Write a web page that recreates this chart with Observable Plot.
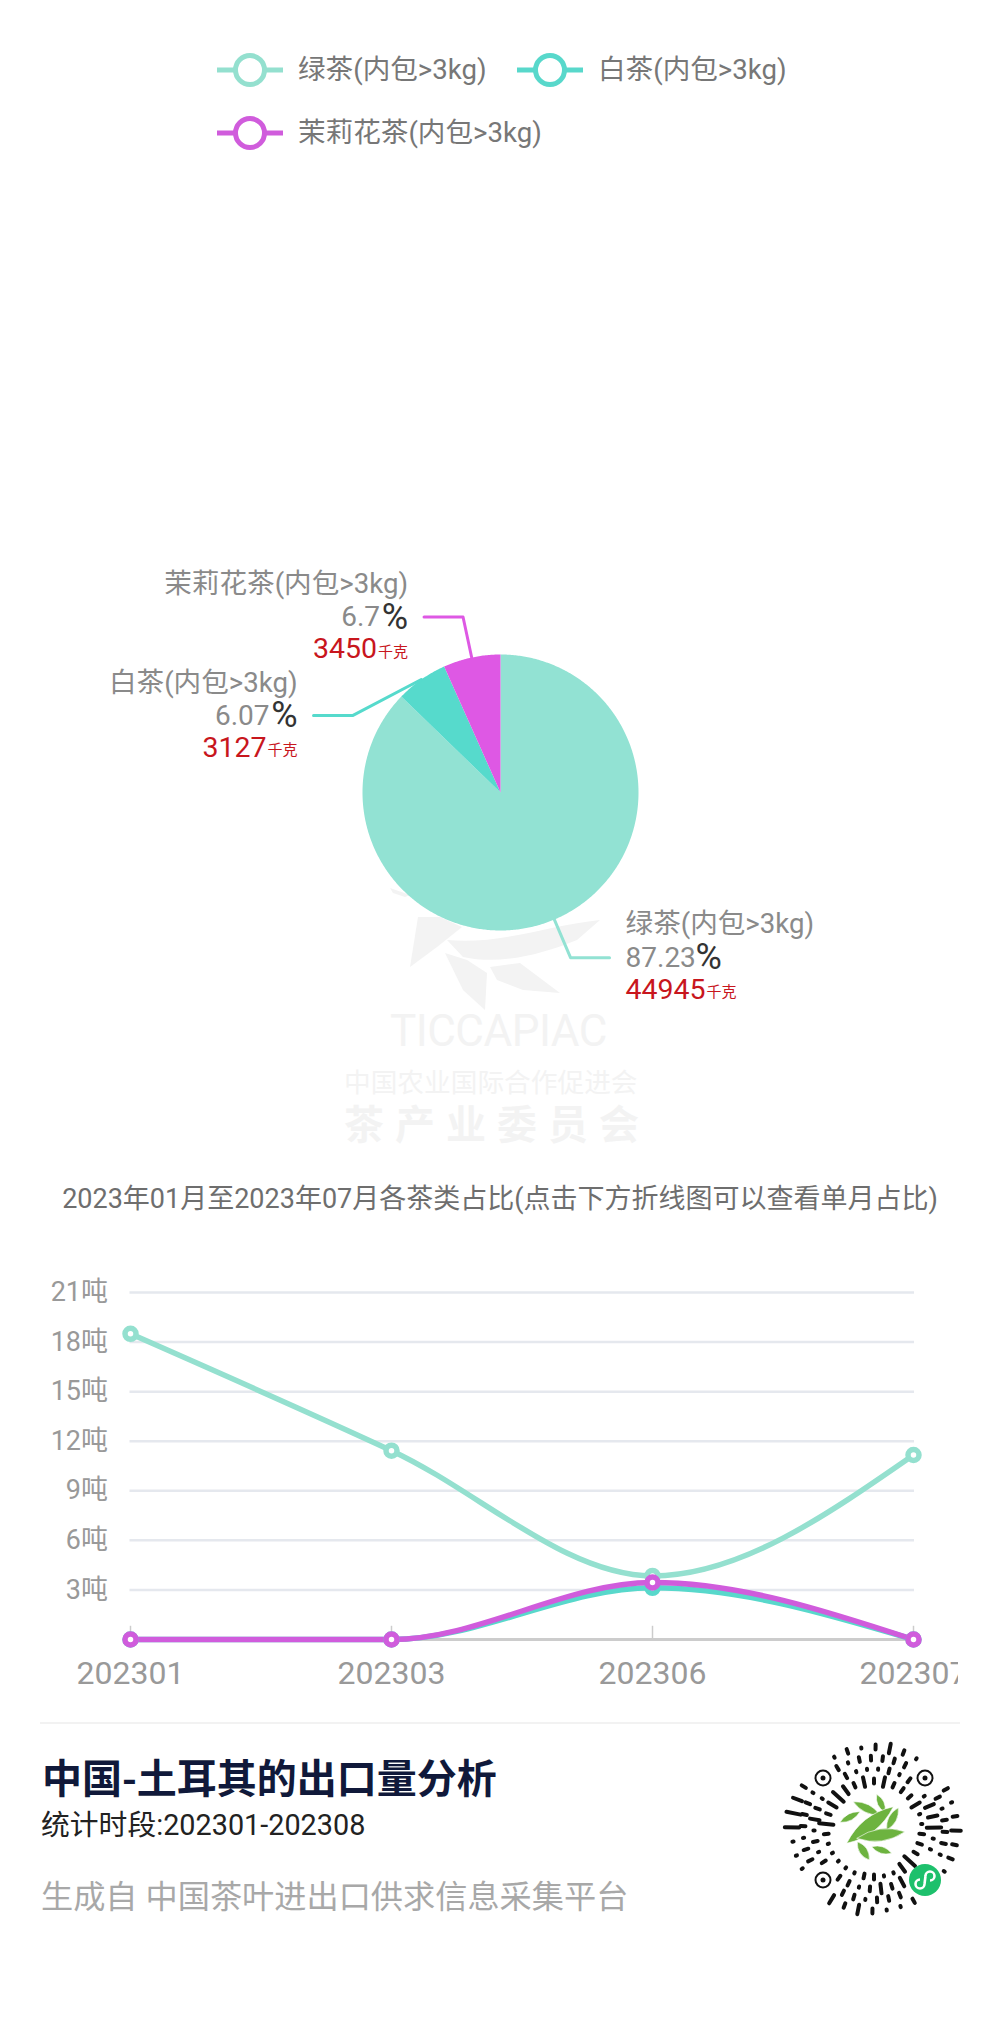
<!DOCTYPE html>
<html><head><meta charset="utf-8">
<script src="https://cdn.jsdelivr.net/npm/d3@7"></script>
<script src="https://cdn.jsdelivr.net/npm/@observablehq/plot@0.6"></script>
<style>
html,body{margin:0;padding:0;background:#fff}
#page{position:relative;width:1000px;height:2042px;overflow:hidden;font-family:Roboto,"Noto Sans CJK SC",sans-serif}
.t{position:absolute;white-space:nowrap;line-height:1;transform:translateY(-50%)}
.abs{position:absolute;left:0;top:0}
svg{background:transparent}
</style></head><body><div id="page"></div>
<script>
const teaNames = ["绿茶(内包>3kg)", "白茶(内包>3kg)", "茉莉花茶(内包>3kg)"];
const kilograms = [44945, 3127, 3450];
const percents = ["87.23", "6.07", "6.7"];
const months = ["202301", "202303", "202306", "202307"];
const greenTons = [18.5, 11.43, 3.85, 11.165];
const whiteTons = [0, 0, 3.127, 0];
const jasmineTons = [0, 0, 3.45, 0];
const yTicks = [3, 6, 9, 12, 15, 18, 21];
const pieColors = ["#92e2d3", "#56dacc", "#de58e4"];
const lineColors = ["#94e0cf", "#58d8cb", "#d05cdc"];
const chartTitle = "2023年01月至2023年07月各茶类占比(点击下方折线图可以查看单月占比)";
const footTitle = "中国-土耳其的出口量分析";
const footPeriod = "统计时段:202301-202308";
const footSource = "生成自 中国茶叶进出口供求信息采集平台";

const page = document.getElementById("page");
const fontStack = 'Roboto,"Noto Sans CJK SC",sans-serif';
function text(str, x, y, size, color, extra = {}) {
  const d = document.createElement("div");
  d.className = "t"; d.textContent = str;
  Object.assign(d.style, {left: x + "px", top: y + "px", fontSize: size + "px", color}, extra);
  page.appendChild(d); return d;
}
function place(node, top) {
  node.style.position = "absolute"; node.style.left = "0"; node.style.top = top + "px";
  page.appendChild(node);
}
const NS = "http://www.w3.org/2000/svg";
function raw(markup, w = 1000, h = 2042) {
  const s = document.createElementNS(NS, "svg");
  s.setAttribute("width", w); s.setAttribute("height", h); s.setAttribute("class", "abs");
  s.innerHTML = markup; page.appendChild(s); return s;
}

// legend
const legendPos = [[250, 70], [550, 70], [250, 133]];
teaNames.forEach((n, i) => {
  const [cx, cy] = legendPos[i];
  raw(`<line x1="${cx-33}" x2="${cx+33}" y1="${cy}" y2="${cy}" stroke="${lineColors[i]}" stroke-width="5"/>
       <circle cx="${cx}" cy="${cy}" r="14.5" fill="#fff" stroke="${lineColors[i]}" stroke-width="5"/>`);
  text(n, cx + 48, cy, 27.6, "#777");
});

// watermark behind the pie
const wm = "#f3f3f3";
raw(`<g fill="${wm}">
<path d="M390 888 L410 895 L405 897 L393 893Z"/>
<path d="M410 967 L418 917 L440 917 L462 927 L437 947Z"/>
<path d="M447 940 C500 945 550 925 600 920 L577 940 C540 955 500 965 463 957Z"/>
<path d="M445 953 L467 960 L487 973 L485 1010 L463 990Z"/>
<path d="M490 967 L520 963 L560 993 L523 990 L497 980Z"/>
</g>`);
text("TICCAPIAC", 390, 1031, 44, wm, {letterSpacing: "-0.5px"});
text("中国农业国际合作促进会", 344, 1083, 26.7, wm);
text("茶产业委员会", 344, 1122, 40, wm, {fontFamily: '"Noto Sans CJK SC"', fontWeight: 700, letterSpacing: "11px"});

// pie
const pieTop = 540, cxPx = 500, cyPx = 792, R = 138;
const arcs = d3.pie().sort(null).startAngle(0).endAngle(2 * Math.PI)(kilograms);
const slices = arcs.flatMap((a, i) => {
  const pts = [{name: teaNames[i], x: 0, y: 0}];
  const steps = Math.ceil((a.endAngle - a.startAngle) / 0.01);
  for (let s = 0; s <= steps; s++) {
    const t = a.startAngle + (a.endAngle - a.startAngle) * s / steps;
    pts.push({name: teaNames[i], x: R * Math.sin(t), y: -R * Math.cos(t)});
  }
  pts.push({name: teaNames[i], x: 0, y: 0});
  return pts;
});
// callouts follow each slice's mid angle; 白茶 is nudged off its neighbour
const nudge = [[0, 0], [-45, 70], [0, 0]];
const callouts = arcs.map((a, i) => {
  const m = (a.startAngle + a.endAngle) / 2, s = Math.sin(m), c = -Math.cos(m);
  const side = s > 0 ? 1 : -1;
  const ex = 1.3 * R * s + nudge[i][0], ey = 1.3 * R * c + nudge[i][1];
  return {i, side, rx: R * s, ry: R * c, ex, ey, hx: ex + side * 39, tx: ex + side * 55,
          name: teaNames[i], pct: percents[i], kg: String(kilograms[i])};
});
const leaderPts = callouts.flatMap(c => [
  {name: c.name, x: c.rx, y: c.ry}, {name: c.name, x: c.ex, y: c.ey}, {name: c.name, x: c.hx, y: c.ey}]);
const left = callouts.filter(c => c.side < 0), right = callouts.filter(c => c.side > 0);
const F = {x: "tx", y: "ey", lineAnchor: "middle", fontFamily: fontStack};
const pie = Plot.plot({
  width: 1000, height: 540, margin: 0,
  x: {axis: null, domain: [-R, R], range: [cxPx - R, cxPx + R]},
  y: {axis: null, domain: [-R, R], range: [cyPx - R - pieTop, cyPx + R - pieTop]},
  color: {domain: teaNames, range: pieColors},
  style: {background: "transparent"},
  marks: [
    Plot.line(slices, {x: "x", y: "y", z: "name", fill: "name", stroke: "none"}),
    Plot.line(leaderPts, {x: "x", y: "y", z: "name", stroke: "name", strokeWidth: 3, curve: "linear"}),
    Plot.text(left, {...F, text: "name", dy: -32.5, fill: "#8a8a8a", fontSize: 27.6, textAnchor: "end"}),
    Plot.text(right, {...F, text: "name", dy: -33.5, fill: "#8a8a8a", fontSize: 27.6, textAnchor: "start"}),
    Plot.text(left, {...F, text: "pct", fill: "#8a8a8a", fontSize: 28, textAnchor: "end", dx: -28}),
    Plot.text(left, {...F, text: () => "%", fill: "#333", fontSize: 36, textAnchor: "end"}),
    Plot.text(right, {...F, text: "pct", fill: "#8a8a8a", fontSize: 28, textAnchor: "start"}),
    Plot.text(right, {...F, text: () => "%", fill: "#333", fontSize: 36, textAnchor: "start", dx: 70}),
    Plot.text(left, {...F, text: "kg", dy: 32, fill: "#c8161d", fontSize: 28.5, textAnchor: "end", dx: -31}),
    Plot.text(left, {...F, text: () => "千克", dy: 35, fill: "#c8161d", fontSize: 15, textAnchor: "end"}),
    Plot.text(right, {...F, text: "kg", dy: 32, fill: "#c8161d", fontSize: 28.5, textAnchor: "start"}),
    Plot.text(right, {...F, text: () => "千克", dy: 35, fill: "#c8161d", fontSize: 15, textAnchor: "start", dx: 81})
  ]
});
place(pie, pieTop);

// chart title
text(chartTitle, 500, 1199, 27, "#6e6e6e", {transform: "translate(-50%,-50%)"});

// line chart
const series = [greenTons, whiteTons, jasmineTons];
const rows = series.flatMap((vals, i) => vals.map((v, j) => ({tea: teaNames[i], month: months[j], tons: v})));
const lineTop = 1260;
const chart = Plot.plot({
  width: 958, height: 440,
  marginLeft: 129.5, marginRight: 44, marginTop: 32, marginBottom: 61,
  style: {background: "transparent", fontFamily: fontStack},
  x: {type: "point", domain: months, label: null, padding: 0},
  y: {domain: [0, 21], label: null},
  color: {domain: teaNames, range: lineColors},
  marks: [
    Plot.ruleY(yTicks, {stroke: "#e5e8ee", strokeWidth: 2.5}),
    Plot.ruleX(months, {y1: 0, y2: 0.8, stroke: "#ccc", strokeWidth: 1.5}),
    Plot.ruleY([0], {stroke: "#ccc", strokeWidth: 3}),
    Plot.axisY({ticks: yTicks, tickFormat: d => d + "吨", tickSize: 0, tickPadding: 22, fontSize: 27, color: "#999", label: null}),
    Plot.axisX({tickSize: 0, tickPadding: 22, fontSize: 32, color: "#999", label: null}),
    Plot.line(rows, {x: "month", y: "tons", z: "tea", stroke: "tea", strokeWidth: 5.5, curve: "monotone-x"}),
    Plot.dot(rows, {x: "month", y: "tons", stroke: "tea", fill: "#fff", r: 5.5, strokeWidth: 5.5})
  ]
});
place(chart, lineTop);

// footer
raw(`<line x1="40" x2="960" y1="1723" y2="1723" stroke="#eeeeee" stroke-width="1.5"/>`);
text(footTitle, 42, 1776, 40, "#10193a", {fontWeight: 700, fontFamily: '"Noto Sans CJK SC"'});
text(footPeriod, 41, 1825, 28.8, "#222");
text(footSource, 41, 1897, 32.2, "#a8a8a8");

// mini-program code (decorative)
const qx = 874, qy = 1829;
const pattern = "1012031021101302110210301201";
const avoid = [[823, 1778, 15], [925, 1778, 15], [823, 1880, 15], [925, 1880, 21]];
let qr = "";
[[48, 30], [60, 34], [71, 38], [82, 36]].forEach(([r, n], k) => {
  for (let a = 0; a < n; a++) {
    const p = +pattern[(a * (2 * k + 3) + k) % pattern.length];
    const t = 2 * Math.PI * (a + k * 0.37) / n, s = Math.sin(t), c = Math.cos(t);
    const dx = qx + r * s, dy = qy - r * c;
    if (avoid.some(([x, y, d]) => Math.hypot(dx - x, dy - y) < d)) continue;
    const l = p === 0 ? 0.6 : p * 2.4;
    qr += `<line x1="${dx - l * s}" y1="${dy + l * c}" x2="${dx + l * s}" y2="${dy - l * c}"/>`;
  }
});
const locators = avoid.slice(0, 3).map(([x, y]) =>
  `<circle cx="${x}" cy="${y}" r="7.5" fill="none" stroke="#111" stroke-width="2"/><circle cx="${x}" cy="${y}" r="2.5" fill="#111"/>`).join("");
function leaf(x1, y1, x2, y2, w) {
  const [ax, ay, bx, by] = [x1, y1, x2, y2].map((v, i) => (i % 2 ? 1735 : 780) + v / 3);
  const mx = (ax + bx) / 2, my = (ay + by) / 2, L = Math.hypot(bx - ax, by - ay);
  const nx = -(by - ay) / L * w / 3, ny = (bx - ax) / L * w / 3;
  return `<path d="M${ax} ${ay} Q${mx + nx} ${my + ny} ${bx} ${by} Q${mx - nx} ${my - ny} ${ax} ${ay}Z"/>`;
}
const leaves = [[220,200,300,240,24],[180,262,240,230,20],[290,178,315,232,20],[355,218,320,285,24],[232,320,268,375,24],[275,335,335,355,20],[200,325,340,215,42],[230,310,375,290,36]]
  .map(l => leaf(...l)).join("");
raw(`<g stroke="#111" stroke-width="4" stroke-linecap="round">${qr}</g>${locators}
<g fill="#6db33f" stroke="#fff" stroke-width="0.6">${leaves}</g>
<circle cx="925" cy="1880" r="16" fill="#1dc06c"/>
<path d="M924.5 1884 a4.5 4.5 0 1 1 -4.5 -4.5 M925.5 1876 a4.5 4.5 0 1 1 4.5 4.5 M924.5 1884 L925.5 1876" fill="none" stroke="#fff" stroke-width="2.6"/>`);
</script></body></html>
